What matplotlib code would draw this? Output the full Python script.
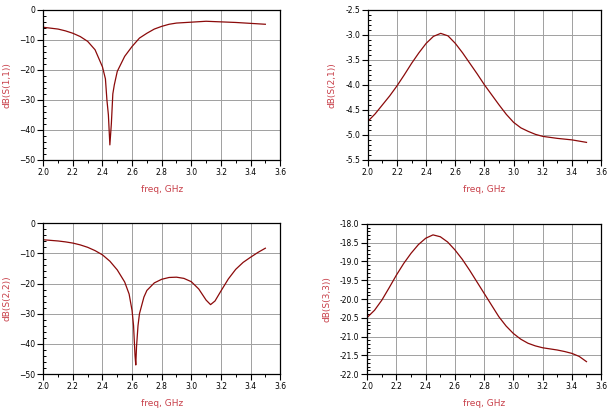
import matplotlib
matplotlib.use("Agg")
import matplotlib.pyplot as plt
from matplotlib.ticker import MultipleLocator

# S(1,1)
f11 = [2.0, 2.05, 2.1, 2.15, 2.2, 2.25, 2.3, 2.35, 2.4, 2.42, 2.43, 2.44, 2.45, 2.46,
       2.465, 2.47, 2.48, 2.5, 2.55, 2.6, 2.65, 2.7, 2.75, 2.8, 2.85, 2.9, 3.0, 3.1,
       3.2, 3.3, 3.4, 3.5]
s11 = [-5.8, -6.1, -6.4, -7.0, -7.8, -8.9, -10.5, -13.3, -19.0, -23.0, -30.0, -35.0,
       -45.0, -38.0, -33.0, -28.0, -25.0, -20.5, -15.5, -12.2, -9.4, -7.8, -6.4, -5.5,
       -4.8, -4.4, -4.1, -3.8, -4.0, -4.2, -4.5, -4.8]

# S(2,1)
f21 = [2.0, 2.05, 2.1, 2.15, 2.2, 2.25, 2.3, 2.35, 2.4, 2.45, 2.5, 2.55, 2.6, 2.65,
       2.7, 2.75, 2.8, 2.85, 2.9, 2.95, 3.0, 3.05, 3.1, 3.15, 3.2, 3.3, 3.4, 3.5]
s21 = [-4.73, -4.58, -4.4, -4.22, -4.02, -3.8, -3.57, -3.36, -3.17, -3.03, -2.97,
       -3.02, -3.17, -3.36, -3.57, -3.78, -4.0, -4.2, -4.4, -4.59, -4.75, -4.86, -4.93,
       -4.99, -5.03, -5.07, -5.1, -5.15]

# S(2,2)
f22 = [2.0, 2.05, 2.1, 2.15, 2.2, 2.25, 2.3, 2.35, 2.4, 2.45, 2.5, 2.55, 2.58, 2.6,
       2.61, 2.62, 2.625, 2.63, 2.64, 2.65, 2.68, 2.7, 2.75, 2.8, 2.85, 2.9, 2.95, 3.0,
       3.05, 3.1, 3.13, 3.16, 3.2, 3.25, 3.3, 3.35, 3.4, 3.45, 3.5]
s22 = [-5.5, -5.7, -5.9, -6.2, -6.6, -7.2, -8.0, -9.1, -10.5, -12.6, -15.5, -19.5,
       -23.5, -29.0, -34.0, -44.0, -47.0, -41.0, -34.0, -30.0, -24.5, -22.3, -19.8,
       -18.6, -18.0, -17.9, -18.3, -19.4, -21.8, -25.5, -27.0, -25.8, -22.5, -18.5,
       -15.3, -13.0, -11.3, -9.7, -8.3]

# S(3,3)
f33 = [2.0, 2.05, 2.1, 2.15, 2.2, 2.25, 2.3, 2.35, 2.4, 2.45, 2.5, 2.55, 2.6, 2.65,
       2.7, 2.75, 2.8, 2.85, 2.9, 2.95, 3.0, 3.05, 3.1, 3.15, 3.2, 3.25, 3.3, 3.35,
       3.4, 3.45, 3.5]
s33 = [-20.49, -20.3, -20.03, -19.7, -19.36, -19.05, -18.78, -18.55, -18.38, -18.29,
       -18.34, -18.48, -18.69, -18.94, -19.23, -19.54, -19.85, -20.16, -20.47, -20.72,
       -20.92, -21.07, -21.18, -21.25, -21.3, -21.33, -21.36, -21.4, -21.45, -21.53,
       -21.67]

line_col = '#8b0a0a'
label_col = '#c8404a'

panels = [
    (f11, s11, 'dB(S(1,1))', (-50, 0), 10, 2, [0.071, 0.611, 0.389, 0.365]),
    (f21, s21, 'dB(S(2,1))', (-5.5, -2.5), 0.5, 0.1, [0.604, 0.611, 0.383, 0.365]),
    (f22, s22, 'dB(S(2,2))', (-50, 0), 10, 2, [0.071, 0.090, 0.389, 0.367]),
    (f33, s33, 'dB(S(3,3))', (-22, -18), 0.5, 0.1, [0.603, 0.090, 0.384, 0.365]),
]

fig = plt.figure(figsize=(6.09, 4.11), dpi=100)

for f, s, lab, ylim, ymaj, ymin, rect in panels:
    ax = fig.add_axes(rect)
    ax.plot(f, s, color=line_col, lw=0.9)
    ax.set_xlim(2.0, 3.6)
    ax.set_ylim(*ylim)
    ax.xaxis.set_major_locator(MultipleLocator(0.2))
    ax.xaxis.set_minor_locator(MultipleLocator(0.1))
    ax.yaxis.set_major_locator(MultipleLocator(ymaj))
    ax.yaxis.set_minor_locator(MultipleLocator(ymin))
    ax.xaxis.set_major_formatter(plt.FormatStrFormatter('%.1f'))
    if ymaj < 1:
        ax.yaxis.set_major_formatter(plt.FormatStrFormatter('%.1f'))
    ax.grid(True, which='major', color='#a0a0a0', lw=0.7)
    ax.tick_params(which='major', direction='out', length=4, width=0.8, labelsize=5.5, pad=1.5)
    ax.tick_params(axis='y', which='minor', direction='in', length=2.5, width=0.7)
    ax.tick_params(axis='x', which='minor', direction='out', length=2.5, width=0.7)
    for sp in ax.spines.values():
        sp.set_linewidth(0.9)
    ax.set_xlabel('freq, GHz', color=label_col, fontsize=6.5, labelpad=6)
    ax.set_ylabel(lab, color=label_col, fontsize=6.5, labelpad=6)

fig.savefig('out.png', dpi=100)
